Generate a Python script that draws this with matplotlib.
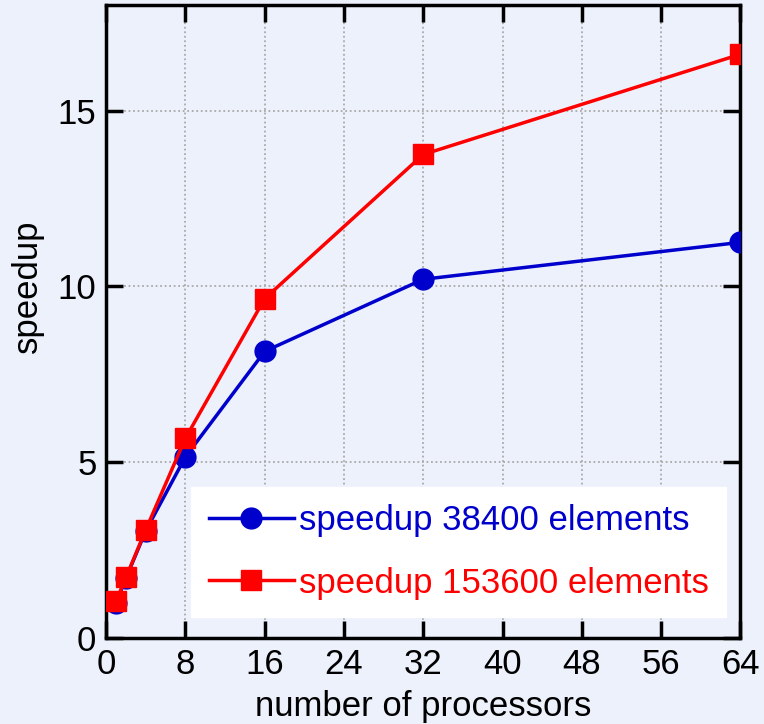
import matplotlib
matplotlib.use("Agg")
import matplotlib.pyplot as plt
from matplotlib import font_manager

# Data: speedup versus number of processors for two mesh sizes
processors = [1, 2, 4, 8, 16, 32, 64]
speedup_38400 = [1.0, 1.7, 3.05, 5.15, 8.15, 10.2, 11.25]
speedup_153600 = [1.05, 1.72, 3.08, 5.68, 9.65, 13.75, 16.6]
x_ticks = [0, 8, 16, 24, 32, 40, 48, 56, 64]
y_ticks = [0, 5, 10, 15]

names = {f.name for f in font_manager.fontManager.ttflist}
family = "Liberation Sans Narrow" if "Liberation Sans Narrow" in names else "Liberation Sans"
plt.rcParams["font.family"] = [family, "DejaVu Sans"]

bg = "#EDF1FC"
fig = plt.figure(figsize=(7.64, 7.24), dpi=100, facecolor=bg)
ax = fig.add_axes([0.139, 0.119, 0.83, 0.874], facecolor=bg)

blue = "#0000CC"
red = "#FF0000"
ax.plot(processors, speedup_38400, color=blue, lw=2.5, marker="o", ms=15,
        label="speedup 38400 elements", zorder=3)
ax.plot(processors, speedup_153600, color=red, lw=2.5, marker="s", ms=15,
        label="speedup 153600 elements", zorder=4)

ax.set_xlim(0, 64)
ax.set_ylim(0, 18)
ax.set_xticks(x_ticks)
ax.set_yticks(y_ticks)
ax.grid(True, linestyle=(0, (1, 1.5)), color="#AAAAAA", lw=1.3)
ax.tick_params(direction="in", length=12, width=2.5, top=True, right=True,
               labelsize=25, pad=7, colors="black")
for s in ax.spines.values():
    s.set_linewidth(2.5)
    s.set_color("black")

ax.set_xlabel("number of processors", fontsize=25, labelpad=7)
ax.set_ylabel("speedup", fontsize=25)
ax.yaxis.set_label_coords(-0.098, 0.555)

leg = ax.legend(loc="lower right", bbox_to_anchor=(0.978, 0.033), fontsize=25,
                frameon=True, fancybox=False, framealpha=1, edgecolor="white",
                facecolor="white", handlelength=2.45, handletextpad=0.15,
                borderpad=0.5, labelspacing=0.85, borderaxespad=0,
                markerscale=1.0)
for t, c in zip(leg.get_texts(), [blue, red]):
    t.set_color(c)
leg.set_zorder(5)

fig.savefig("out.png", dpi=100, facecolor=bg)
